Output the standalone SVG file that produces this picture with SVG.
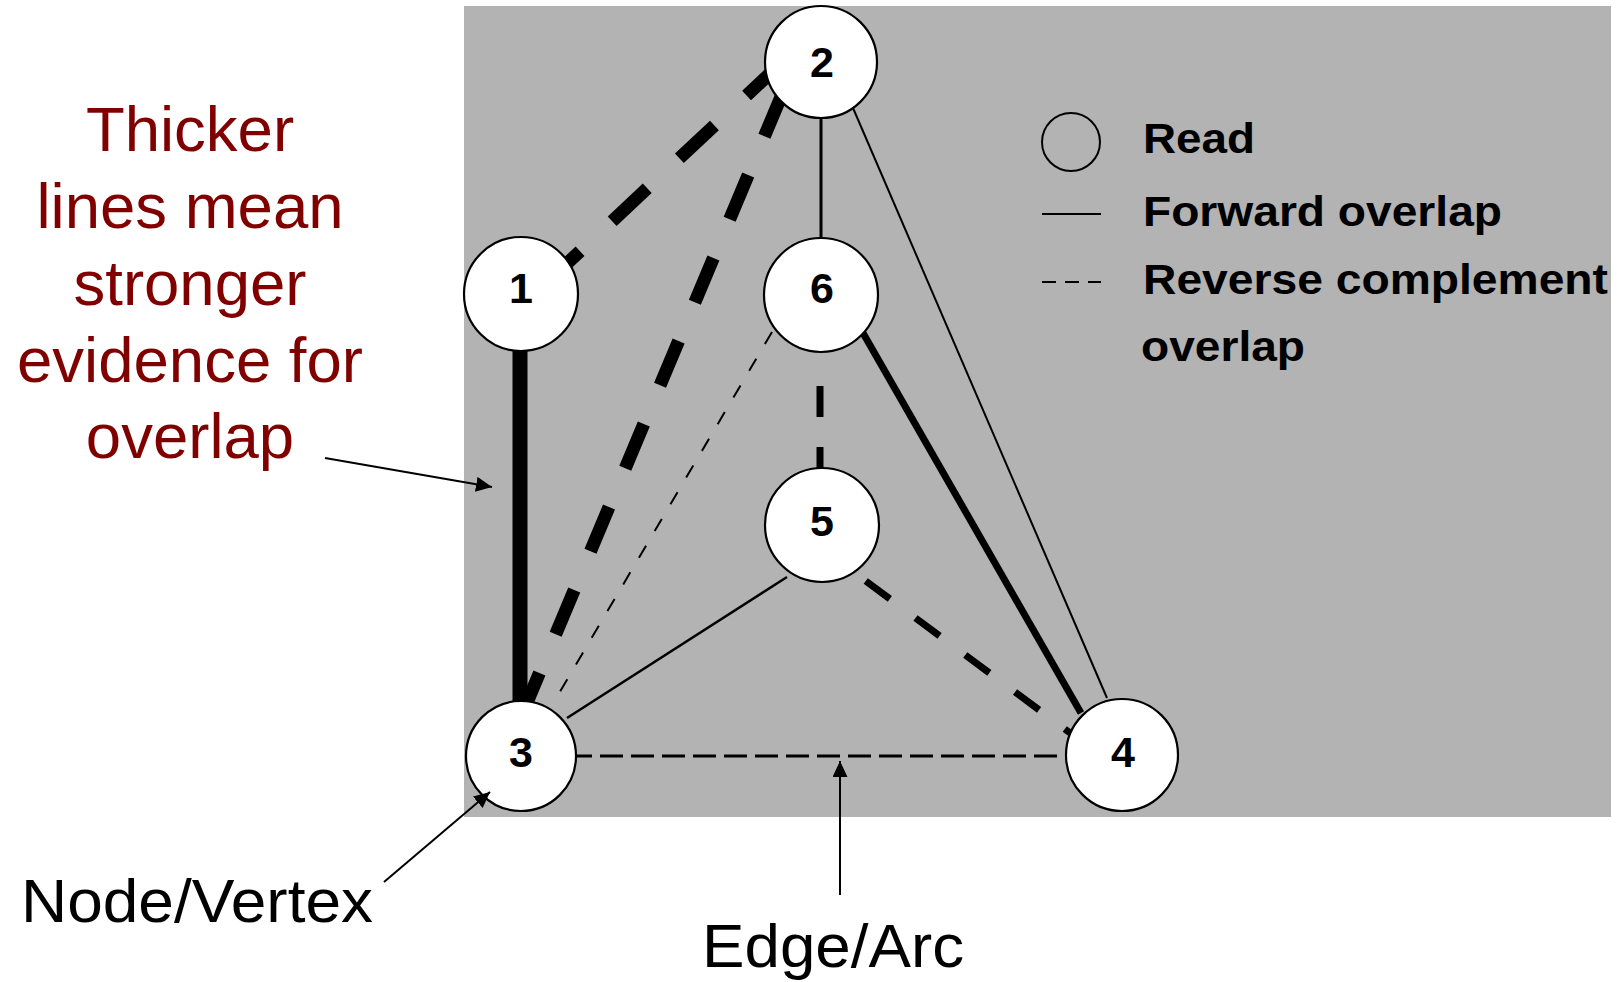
<svg xmlns="http://www.w3.org/2000/svg" width="1617" height="982" viewBox="0 0 1617 982">
  <defs>
    <marker id="arrow" markerUnits="userSpaceOnUse" markerWidth="18" markerHeight="16" refX="16" refY="7.5" orient="auto">
      <path d="M0,0 L16,7.5 L0,15 z" fill="#000"/>
    </marker>
    <style>
      .node circle { fill: #fff; stroke: #000; stroke-width: 2.2; }
      .node text { font-family: "Liberation Sans", Arial, sans-serif; font-weight: bold; font-size: 43px; text-anchor: middle; fill: #000; }
      .edge { fill: none; stroke: #000; stroke-linecap: butt; }
      .legend text { font-family: "Liberation Sans", Arial, sans-serif; font-weight: bold; font-size: 43px; fill: #000; }
      .note { font-family: "Liberation Sans", Arial, sans-serif; font-size: 63.5px; fill: #800000; text-anchor: middle; }
      .label { font-family: "Liberation Sans", Arial, sans-serif; font-size: 61px; fill: #000; }
      .pointer { stroke: #000; stroke-width: 2; fill: none; marker-end: url(#arrow); }
    </style>
  </defs>

  <!-- background panel -->
  <rect x="464" y="6" width="1147" height="811" fill="#b3b3b3"/>

  <!-- overlap edges -->
  <g id="edges">
    <line class="edge" x1="520" y1="350" x2="520" y2="702" stroke-width="15"/>
    <line class="edge" x1="545" y1="284" x2="793" y2="52" stroke-width="13" stroke-dasharray="48 44"/>
    <line class="edge" x1="783" y1="92" x2="521" y2="717" stroke-width="13" stroke-dasharray="48 42"/>
    <line class="edge" x1="821" y1="118" x2="821" y2="238" stroke-width="3"/>
    <line class="edge" x1="853" y1="108" x2="1107" y2="698" stroke-width="2"/>
    <line class="edge" x1="863" y1="333" x2="1081" y2="713" stroke-width="7"/>
    <line class="edge" x1="820" y1="386" x2="820" y2="475" stroke-width="7" stroke-dasharray="31 30"/>
    <line class="edge" x1="772" y1="332" x2="558" y2="695" stroke-width="2" stroke-dasharray="14 17"/>
    <line class="edge" x1="787" y1="577" x2="567" y2="718" stroke-width="2.5"/>
    <line class="edge" x1="816" y1="544" x2="1085" y2="744" stroke-width="7" stroke-dasharray="30 32"/>
    <line class="edge" x1="569" y1="756" x2="1068" y2="756" stroke-width="3" stroke-dasharray="23 8"/>
  </g>

  <!-- reads -->
  <g id="node-1" class="node"><circle cx="521" cy="294" r="57"/><text x="521" y="303">1</text></g>
  <g id="node-2" class="node"><circle cx="821" cy="62" r="56"/><text x="822" y="77">2</text></g>
  <g id="node-6" class="node"><circle cx="821" cy="295" r="57"/><text x="822" y="303">6</text></g>
  <g id="node-5" class="node"><circle cx="822" cy="525" r="57"/><text x="822" y="536">5</text></g>
  <g id="node-3" class="node"><circle cx="521" cy="756" r="55"/><text x="521" y="767">3</text></g>
  <g id="node-4" class="node"><circle cx="1122" cy="755" r="56"/><text x="1123" y="767">4</text></g>

  <!-- legend -->
  <g id="legend" class="legend">
    <circle cx="1071" cy="142" r="29" fill="none" stroke="#000" stroke-width="2"/>
    <text x="1143" y="153" textLength="112" lengthAdjust="spacingAndGlyphs">Read</text>
    <line x1="1042" y1="214" x2="1101" y2="214" stroke="#000" stroke-width="2"/>
    <text x="1143" y="226" textLength="359" lengthAdjust="spacingAndGlyphs">Forward overlap</text>
    <line x1="1042" y1="282" x2="1101" y2="282" stroke="#000" stroke-width="2" stroke-dasharray="14 9"/>
    <text x="1143" y="294" textLength="465" lengthAdjust="spacingAndGlyphs">Reverse complement</text>
    <text x="1141" y="361" textLength="164" lengthAdjust="spacingAndGlyphs">overlap</text>
  </g>

  <!-- annotations -->
  <g id="note-thickness">
    <text class="note" x="190" y="151">Thicker</text>
    <text class="note" x="190" y="228">lines mean</text>
    <text class="note" x="190" y="305">stronger</text>
    <text class="note" x="190" y="382">evidence for</text>
    <text class="note" x="190" y="458">overlap</text>
    <line class="pointer" x1="325" y1="458" x2="492" y2="487"/>
  </g>
  <g id="note-node">
    <text class="label" x="21" y="922" textLength="352" lengthAdjust="spacingAndGlyphs">Node/Vertex</text>
    <line class="pointer" x1="384" y1="882" x2="490" y2="792"/>
  </g>
  <g id="note-edge">
    <text class="label" x="702" y="967" textLength="262" lengthAdjust="spacingAndGlyphs">Edge/Arc</text>
    <line class="pointer" x1="840" y1="895" x2="840" y2="761"/>
  </g>
</svg>
